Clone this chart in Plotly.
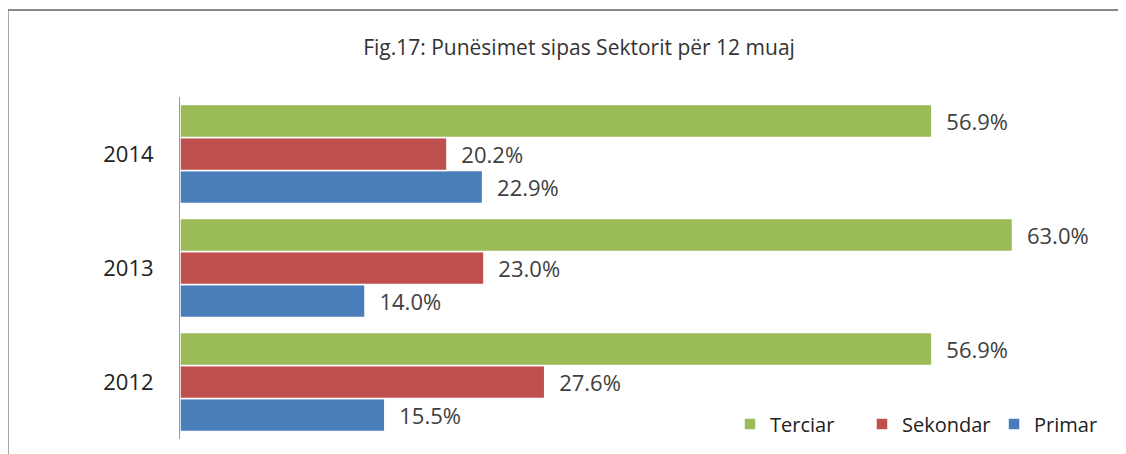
import plotly.graph_objects as go

years = ["2012", "2013", "2014"]
primar = [15.5, 14.0, 22.9]
sekondar = [27.6, 23.0, 20.2]
terciar = [56.9, 63.0, 56.9]
series = [("Primar", primar, "#4A7EBB"), ("Sekondar", sekondar, "#C0504D"), ("Terciar", terciar, "#9BBB59")]

FONT = "Open Sans, Liberation Sans, sans-serif"
OFF = 8  # page body margin
W, H = 1126 - OFF, 454 - OFF

# page-coordinate plot area
PL, PR, PT, PB = 180, 1105, 97, 439
L, T = PL - OFF, PT - OFF
R = W - (PR - OFF)
B = H - (PB - OFF)


def px(x):  # page x -> paper x
    return (x - PL) / (PR - PL)


def py(y):  # page y -> paper y
    return (PB - y) / (PB - PT)


fig = go.Figure()
for name, vals, col in series:
    fig.add_trace(go.Bar(
        y=years, x=vals, name=name, orientation="h",
        marker=dict(color=col, line=dict(color="white", width=1.5)),
        text=["  " + f"{v:.1f}%" for v in vals], textposition="outside",
        textfont=dict(family=FONT, size=22, color="#404040"),
        constraintext="none", cliponaxis=False,
    ))

fig.update_layout(
    width=W, height=H, barmode="group", bargap=0.13, bargroupgap=0.0,
    margin=dict(l=L, r=R, t=T, b=B, autoexpand=False),
    plot_bgcolor="white", paper_bgcolor="white",
    title=dict(text="Fig.17: Punësimet sipas Sektorit për 12 muaj", x=(579 - OFF) / W, xanchor="center",
               y=1 - (48 - OFF) / H, yanchor="middle",
               font=dict(family=FONT, size=21, color="#333333")),
    xaxis=dict(range=[0, 70], visible=False, showgrid=False),
    yaxis=dict(showline=True, linecolor="#9a9a9a", linewidth=1, ticks="", showgrid=False,
               automargin=False,
               tickfont=dict(family=FONT, size=22, color="#222222"),
               ticklabelstandoff=21),
    legend=dict(orientation="h", traceorder="reversed", x=px(730), xanchor="left",
                y=py(424), yanchor="middle", bgcolor="rgba(0,0,0,0)",
                font=dict(family=FONT, size=20, color="#222222"),
                itemwidth=30, entrywidth=87, entrywidthmode="pixels"),
    showlegend=True,
    shapes=[
        dict(type="line", xref="paper", yref="paper", x0=px(8), x1=px(1130),
             y0=py(10), y1=py(10), line=dict(color="#888888", width=2)),
        dict(type="line", xref="paper", yref="paper", x0=px(8), x1=px(8),
             y0=py(10), y1=py(470), line=dict(color="#888888", width=1.5)),
    ],
)
fig.write_html("out.html")
